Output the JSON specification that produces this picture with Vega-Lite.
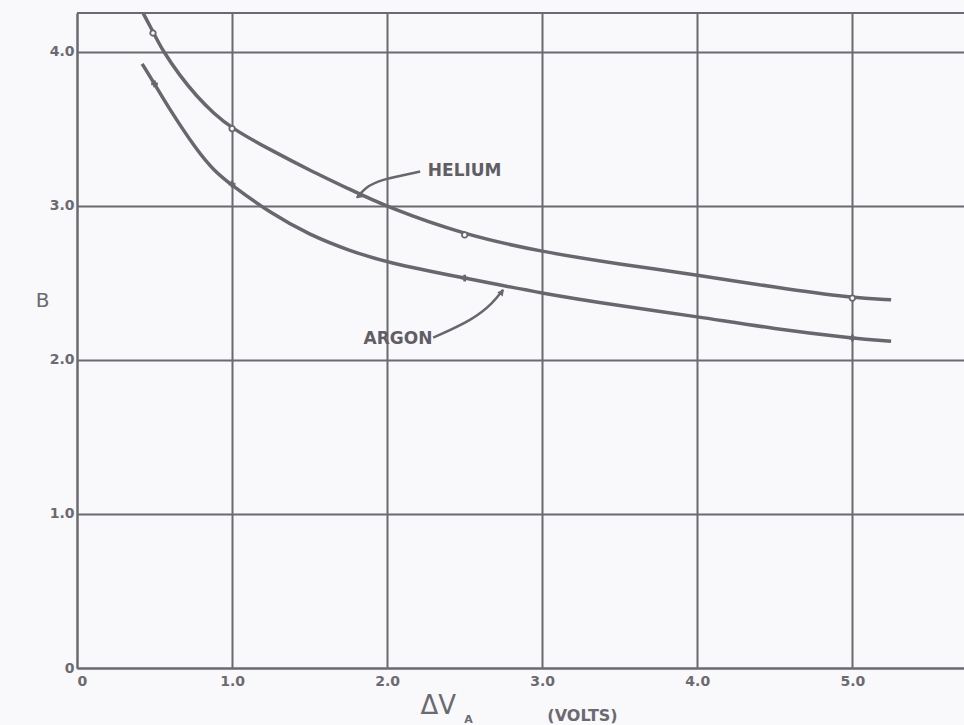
{
  "$schema": "https://vega.github.io/schema/vega-lite/v6.json",
  "autosize": {"type": "none"},
  "padding": {"left": 77, "top": 13, "right": 0, "bottom": 57},
  "width": 887,
  "height": 655,
  "background": "#f9f8fb",
  "config": {
    "view": {"stroke": null},
    "font": "DejaVu Sans",
    "axis": {
      "domainColor": "#6b6a70", "domainWidth": 2,
      "gridColor": "#6b6a70", "gridWidth": 2, "gridOpacity": 1,
      "ticks": false,
      "labelColor": "#6b6a70", "labelFont": "DejaVu Sans", "labelFontWeight": "bold", "labelFontSize": 14
    }
  },
  "datasets": {
    "curves": [
      {"series": "Helium", "x": 0.426, "b": 4.25},
      {"series": "Helium", "x": 0.5, "b": 4.11},
      {"series": "Helium", "x": 0.55, "b": 4.01},
      {"series": "Helium", "x": 0.665, "b": 3.84},
      {"series": "Helium", "x": 0.772, "b": 3.71},
      {"series": "Helium", "x": 0.88, "b": 3.60},
      {"series": "Helium", "x": 1.0, "b": 3.50},
      {"series": "Helium", "x": 1.25, "b": 3.36},
      {"series": "Helium", "x": 1.5, "b": 3.23},
      {"series": "Helium", "x": 1.75, "b": 3.11},
      {"series": "Helium", "x": 2.0, "b": 2.99},
      {"series": "Helium", "x": 2.5, "b": 2.81},
      {"series": "Helium", "x": 3.0, "b": 2.70},
      {"series": "Helium", "x": 3.5, "b": 2.62},
      {"series": "Helium", "x": 4.0, "b": 2.55},
      {"series": "Helium", "x": 4.5, "b": 2.47},
      {"series": "Helium", "x": 5.0, "b": 2.40},
      {"series": "Helium", "x": 5.25, "b": 2.39},
      {"series": "Argon", "x": 0.42, "b": 3.92},
      {"series": "Argon", "x": 0.5, "b": 3.79},
      {"series": "Argon", "x": 0.6, "b": 3.62},
      {"series": "Argon", "x": 0.772, "b": 3.36},
      {"series": "Argon", "x": 0.88, "b": 3.23},
      {"series": "Argon", "x": 1.0, "b": 3.13},
      {"series": "Argon", "x": 1.25, "b": 2.95},
      {"series": "Argon", "x": 1.5, "b": 2.81},
      {"series": "Argon", "x": 1.75, "b": 2.71},
      {"series": "Argon", "x": 2.0, "b": 2.63},
      {"series": "Argon", "x": 2.5, "b": 2.53},
      {"series": "Argon", "x": 3.0, "b": 2.43},
      {"series": "Argon", "x": 3.5, "b": 2.35},
      {"series": "Argon", "x": 4.0, "b": 2.28},
      {"series": "Argon", "x": 4.5, "b": 2.20},
      {"series": "Argon", "x": 5.0, "b": 2.14},
      {"series": "Argon", "x": 5.25, "b": 2.12}
    ],
    "points": [
      {"series": "Helium", "x": 0.49, "b": 4.12},
      {"series": "Helium", "x": 1.0, "b": 3.50},
      {"series": "Helium", "x": 2.5, "b": 2.81},
      {"series": "Helium", "x": 5.0, "b": 2.40},
      {"series": "Argon", "x": 0.5, "b": 3.79},
      {"series": "Argon", "x": 1.0, "b": 3.14},
      {"series": "Argon", "x": 2.5, "b": 2.53},
      {"series": "Argon", "x": 5.0, "b": 2.14}
    ],
    "leaders": [
      {"id": "Helium", "order": 1, "x": 2.213, "b": 3.221},
      {"id": "Helium", "order": 2, "x": 1.955, "b": 3.169},
      {"id": "Helium", "order": 3, "x": 1.858, "b": 3.117},
      {"id": "Helium", "order": 4, "x": 1.806, "b": 3.052},
      {"id": "Argon", "order": 1, "x": 2.297, "b": 2.143},
      {"id": "Argon", "order": 2, "x": 2.555, "b": 2.260},
      {"id": "Argon", "order": 3, "x": 2.684, "b": 2.370},
      {"id": "Argon", "order": 4, "x": 2.748, "b": 2.455}
    ],
    "arrows": [
      {"x": 1.815, "b": 3.06, "angle": 232},
      {"x": 2.74, "b": 2.44, "angle": 38}
    ],
    "labels": [
      {"text": "HELIUM", "x": 2.50, "b": 3.227},
      {"text": "ARGON", "x": 2.07, "b": 2.136}
    ],
    "titleMain": [
      {"text": "ΔV", "x": 2.33, "b": -0.245}
    ],
    "titleSmall": [
      {"text": "A", "x": 2.525, "b": -0.335, "size": 11},
      {"text": "(VOLTS)", "x": 3.26, "b": -0.31, "size": 16}
    ]
  },
  "layer": [
    {
      "data": {"name": "curves"},
      "mark": {"type": "line", "interpolate": "basis", "color": "#68676d", "strokeWidth": 3.5},
      "encoding": {
        "x": {
          "field": "x", "type": "quantitative",
          "scale": {"domain": [0, 5.72], "nice": false, "zero": false},
          "axis": {"values": [0, 1, 2, 3, 4, 5], "title": null, "labelPadding": 6,
                   "labelExpr": "datum.value == 0 ? '0' : format(datum.value, '.1f')"}
        },
        "y": {
          "field": "b", "type": "quantitative",
          "scale": {"domain": [0, 4.25], "nice": false, "zero": false},
          "axis": {"values": [0, 1, 2, 3, 4], "labelPadding": 3,
                   "labelExpr": "datum.value == 0 ? '0' : format(datum.value, '.1f')",
                   "title": "B", "titleAngle": 0, "titleFontSize": 20, "titleFontWeight": "normal",
                   "titleColor": "#6b6a70", "titleX": -35, "titleY": 287, "titleAlign": "center", "titleBaseline": "middle"}
        },
        "detail": {"field": "series"}
      }
    },
    {
      "data": {"name": "curves"},
      "mark": {"type": "rule", "color": "#6b6a70", "strokeWidth": 2},
      "encoding": {"y": {"datum": 4.25}}
    },
    {
      "data": {"name": "points"},
      "transform": [{"filter": "datum.series == 'Helium'"}],
      "mark": {"type": "point", "shape": "circle", "filled": true, "fill": "#f9f8fb", "stroke": "#68676d", "strokeWidth": 1.8, "size": 30, "opacity": 1},
      "encoding": {"x": {"field": "x", "type": "quantitative"}, "y": {"field": "b", "type": "quantitative"}}
    },
    {
      "data": {"name": "points"},
      "transform": [{"filter": "datum.series == 'Argon'"}],
      "mark": {"type": "point", "shape": "cross", "filled": true, "color": "#68676d", "size": 45, "opacity": 1},
      "encoding": {"x": {"field": "x", "type": "quantitative"}, "y": {"field": "b", "type": "quantitative"}}
    },
    {
      "data": {"name": "leaders"},
      "mark": {"type": "line", "interpolate": "basis", "color": "#68676d", "strokeWidth": 2.5},
      "encoding": {
        "x": {"field": "x", "type": "quantitative"},
        "y": {"field": "b", "type": "quantitative"},
        "detail": {"field": "id"},
        "order": {"field": "order"}
      }
    },
    {
      "data": {"name": "arrows"},
      "mark": {"type": "point", "shape": "triangle-up", "filled": true, "color": "#68676d", "size": 50, "opacity": 1},
      "encoding": {
        "x": {"field": "x", "type": "quantitative"},
        "y": {"field": "b", "type": "quantitative"},
        "angle": {"field": "angle", "type": "quantitative", "scale": null}
      }
    },
    {
      "data": {"name": "labels"},
      "mark": {"type": "text", "font": "DejaVu Sans", "fontWeight": "bold", "fontSize": 17, "color": "#5f5e64", "align": "center", "baseline": "middle"},
      "encoding": {
        "x": {"field": "x", "type": "quantitative"},
        "y": {"field": "b", "type": "quantitative"},
        "text": {"field": "text"}
      }
    },
    {
      "data": {"name": "titleMain"},
      "mark": {"type": "text", "font": "DejaVu Sans", "fontWeight": "normal", "fontSize": 26, "color": "#6b6a70", "align": "center", "baseline": "middle"},
      "encoding": {
        "x": {"field": "x", "type": "quantitative"},
        "y": {"field": "b", "type": "quantitative"},
        "text": {"field": "text"}
      }
    },
    {
      "data": {"name": "titleSmall"},
      "mark": {"type": "text", "font": "DejaVu Sans", "fontWeight": "bold", "color": "#6b6a70", "align": "center", "baseline": "middle"},
      "encoding": {
        "x": {"field": "x", "type": "quantitative"},
        "y": {"field": "b", "type": "quantitative"},
        "text": {"field": "text"},
        "size": {"field": "size", "type": "quantitative", "scale": null}
      }
    }
  ]
}
